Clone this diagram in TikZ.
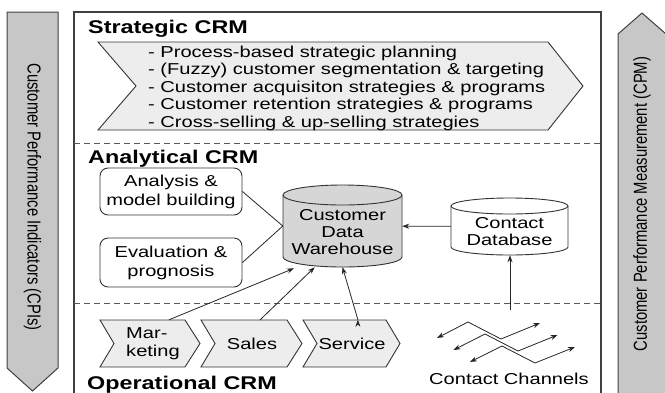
\documentclass[tikz,border=0pt]{standalone}
\usepackage{fontspec}
\setmainfont{Liberation Sans}[FakeStretch=1.27]
\newfontfamily\upfont{Liberation Sans}
\usetikzlibrary{arrows.meta}

\tikzset{
	side/.style={draw=black!75, fill=black!22, line width=1pt},
	sidetext/.style={inner sep=0pt, font=\upfont\fontsize{14.8}{16}\selectfont},
	layer/.style={anchor=base west, inner sep=0pt, font=\bfseries\fontsize{18.4}{20}\selectfont},
	txt/.style={inner sep=0pt, align=center, font=\fontsize{15.8}{17.5}\selectfont},
	chev/.style={draw=black!80, fill=black!7, line width=0.9pt},
	box/.style={txt, draw=black!80, rounded corners=8pt, minimum width=142pt, line width=0.9pt, font=\fontsize{15.8}{19}\selectfont},
	db/.style={draw=black!80, line width=0.9pt},
	dbarea/.style={inner sep=0pt},
	dbtext/.style={txt, font=\fontsize{15.8}{17}\selectfont},
	opr/.style={txt, minimum width=100pt, minimum height=47pt},
	sep/.style={draw=black!65, dash pattern=on 6pt off 4pt, line width=0.9pt},
	link/.style={draw=black!85, line width=0.8pt}
}

\begin{document}
\begin{tikzpicture}[x=1pt, y=-1pt, >={Stealth[length=7pt,width=5pt]}]
		\useasboundingbox (0,0) rectangle (665,392);

		\draw[side] (7,12) -- (58,12) -- (58,368) -- (32.5,391) -- (7,368) -- cycle;
		\draw[side] (618,400) -- (618,34) -- (642,13) -- (666,34) -- (666,400);
		\node[sidetext, rotate=-90] (cpi) at (32.5,197) {\scalebox{1}[1.27]{Customer Performance Indicators (CPIs)}};
		\node[sidetext, rotate=90]  (cpm) at (642,204) {\scalebox{1}[1.27]{Customer Performance Measurement (CPM)}};

		\draw[black!75, line width=1.2pt] (74,400) -- (74,12) -- (601,12) -- (601,400);
		\draw[sep] (74,143) -- (601,143);
		\draw[sep] (74,303) -- (601,303);

		\node[layer] (scrm) at (88,33)  {Strategic CRM};
		\node[layer] (acrm) at (88,163) {Analytical CRM};
		\node[layer] (ocrm) at (87,389) {Operational CRM};

		% strategic layer
		\draw[chev] (98,42) -- (548,42) -- (583,86) -- (548,130) -- (98,130) -- (136,86) -- cycle;
		\node[txt, align=left, anchor=west] (plan) at (148,88)
			{- Process-based strategic planning\\
			 - (Fuzzy) customer segmentation \& targeting\\
			 - Customer acquisiton strategies \& programs\\
			 - Customer retention strategies \& programs\\
			 - Cross-selling \& up-selling strategies};

		% analytical layer
		\node[box, minimum height=47pt] (ana) at (171,191.5) {Analysis \&\\model building};
		\node[box, minimum height=49pt] (eva) at (171,262.5) {Evaluation \&\\prognosis};

		\draw[db, fill=black!16] (283,195) -- (283,257) arc[start angle=180, end angle=360, x radius=59.5pt, y radius=10pt]
			-- (402,195) arc[start angle=0, end angle=180, x radius=59.5pt, y radius=10pt] -- cycle;
		\draw[db] (283,195) arc[start angle=180, end angle=360, x radius=59.5pt, y radius=10pt];
		\node[dbarea, minimum width=119pt, minimum height=82pt] (cdw) at (342.5,226) {};
		\node[dbtext] (cdwt) at (342.5,232) {Customer\\Data\\Warehouse};

		\draw[db, fill=white] (451,206) -- (451,247) arc[start angle=180, end angle=360, x radius=58.5pt, y radius=8pt]
			-- (568,206) arc[start angle=0, end angle=180, x radius=58.5pt, y radius=8pt] -- cycle;
		\draw[db] (451,206) arc[start angle=180, end angle=360, x radius=58.5pt, y radius=8pt];
		\node[dbarea, minimum width=117pt, minimum height=57pt] (cdb) at (509.5,226.5) {};
		\node[dbtext] (cdbt) at (509.5,231.5) {Contact\\Database};

		\draw[link] (ana.east) -- (cdw.west);
		\draw[link] (eva.east) -- (cdw.west);
		\draw[link, ->] (cdb) -- (cdw);

		% operational layer
		\draw[chev] (100,320) -- (185,320) -- (200,343.5) -- (185,367) -- (100,367) -- (114,343.5) -- cycle;
		\draw[chev] (201,320) -- (287,320) -- (302,343.5) -- (287,367) -- (201,367) -- (215,343.5) -- cycle;
		\draw[chev] (303,320) -- (386,320) -- (400,343.5) -- (386,367) -- (303,367) -- (317,343.5) -- cycle;
		\node[opr, align=left, font=\fontsize{15.8}{18}\selectfont] (mkt) at (153,343.5) {Mar-\\keting};
		\node[opr] (sal) at (252,343.5) {Sales};
		\node[opr] (srv) at (352,343.5) {Service};

		\path[link, ->]
			(mkt.56) edge [shorten >=3pt] (cdw.222)
			(sal.71) edge (cdw.236)
			(srv.76) edge (cdw.south);

		\coordinate (chan) at (510,310);
		\draw[link, ->] (chan) -- (chan |- cdb.south);
		\foreach \i in {0,1,2}
			\draw[link, <->] (437+16.5*\i,338+12*\i) -- (468+17*\i,322+12*\i) -- (501+17*\i,339+12*\i) -- (540+17.5*\i,323+12*\i);
		\node[txt] (chl) at (509,379) {Contact Channels};
\end{tikzpicture}
\end{document}
